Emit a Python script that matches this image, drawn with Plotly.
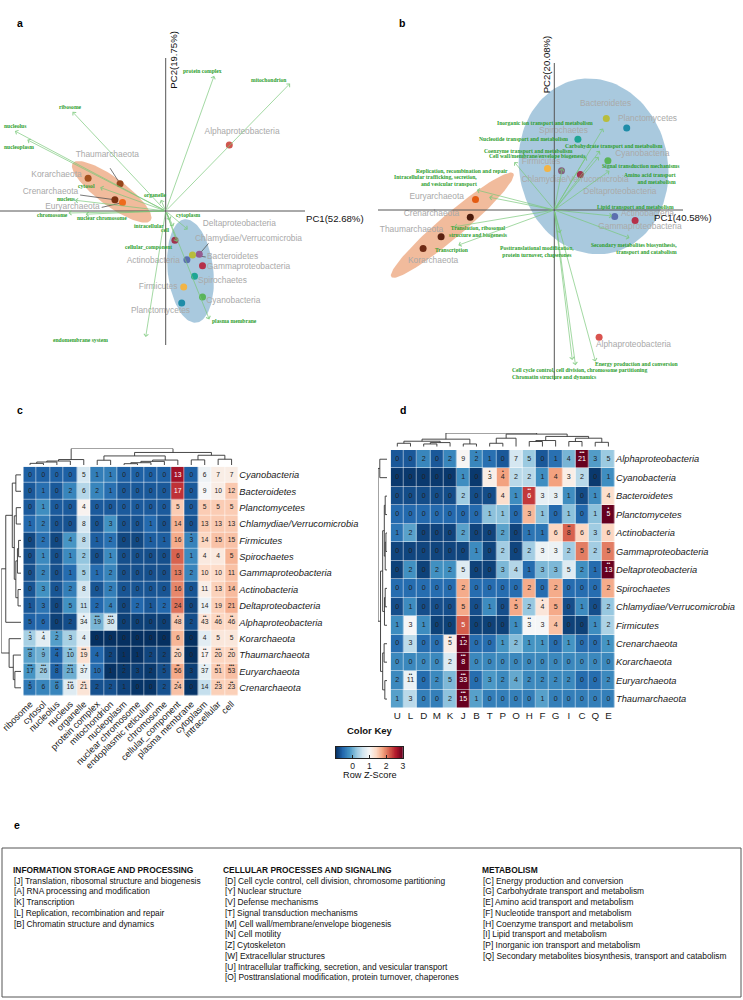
import numpy as np
import plotly.graph_objects as go

W, H = 743, 1000
def px(x): return x / W
def py(y): return 1 - y / H

SANS = "Liberation Sans"
SERIF = "Liberation Serif"

# ---------------- Panel a : PCA of GO cellular-component terms ----------------
a_taxa = ["Alphaproteobacteria", "Thaumarchaeota", "Korarchaeota", "Crenarchaeota", "Euryarchaeota",
          "Deltaproteobacteria", "Chlamydiae/Verrucomicrobia", "Bacteroidetes", "Gammaproteobacteria",
          "Actinobacteria", "Spirochaetes", "Firmicutes", "Cyanobacteria", "Planctomycetes"]
a_pc1 = [1.59, -1.14, -1.94, -1.27, -1.08, 0.23, 0.84, 0.67, 0.92, 0.53, 0.72, 0.45, 0.92, 0.40]
a_pc2 = [1.65, 0.68, 0.82, 0.28, 0.21, -0.73, -1.08, -1.10, -1.37, -1.22, -1.63, -1.90, -2.15, -2.30]
a_lab_x = [1.91, -1.46, -2.73, -2.88, -2.33, 1.84, 2.07, 1.67, 2.07, -0.31, 1.42, -0.19, 1.69, -0.13]
a_lab_y = [1.98, 1.39, 0.91, 0.48, 0.09, -0.33, -0.69, -1.15, -1.40, -1.26, -1.75, -1.89, -2.25, -2.50]
a_colors = ["#d0574f", "#96461c", "#a4511f", "#7d3212", "#ee6a1c", "#a0334f", "#955b90", "#b8bd3c",
            "#b5304a", "#5b6fae", "#1fa594", "#f2b445", "#5ab45a", "#1e8ca8"]
a_leaders = {"Thaumarchaeota": (-1.39, 1.07), "Crenarchaeota": (-2.14, 0.40), "Euryarchaeota": (-1.60, 0.09),
             "Chlamydiae/Verrucomicrobia": (1.07, -0.81), "Bacteroidetes": (1.00, -1.15)}

a_terms = ["protein complex", "mitochondrion", "ribosome", "nucleolus", "nucleoplasm", "cytosol", "nucleus",
           "chromosome", "nuclear chromosome", "organelle", "cytoplasm", "intracellular", "cell",
           "cellular_component", "plasma membrane", "endomembrane system"]
a_load1 = [1.21, 3.11, -2.33, -3.77, -3.46, -1.64, -2.27, -2.43, -2.00, -0.12, 0.55, 0.11, 0.19, 0.28, 1.09, -0.50]
a_load2 = [3.38, 3.19, 2.48, 2.00, 1.78, 0.59, 0.27, -0.05, -0.08, 0.28, -0.46, -0.23, -0.39, -0.77, -2.71, -3.15]
a_term_x = [0.92, 2.58, -2.38, -3.76, -3.68, -1.98, -2.48, -2.83, -1.60, -0.25, 0.57, -0.42, -0.01, -0.43, 1.72, -2.14]
a_term_y = [3.51, 3.28, 2.60, 2.13, 1.59, 0.63, 0.30, -0.10, -0.18, 0.40, -0.11, -0.37, -0.48, -0.91, -2.76, -3.23]

# ellipse params: centre x, centre y, semi-major, semi-minor, angle (deg)
a_ell_arch = (-1.35, 0.48, 1.21, 0.35, -36.5)
a_ell_bact = (0.62, -1.50, 1.30, 0.57, 96.4)

# ---------------- Panel b : PCA of COG categories ----------------
b_taxa = ["Bacteroidetes", "Planctomycetes", "Spirochaetes", "Cyanobacteria", "Firmicutes",
          "Chlamydiae/Verrucomicrobia", "Deltaproteobacteria", "Actinobacteria", "Gammaproteobacteria",
          "Alphaproteobacteria", "Euryarchaeota", "Crenarchaeota", "Thaumarchaeota", "Korarchaeota"]
b_pc1 = [1.30, 1.81, 0.59, 1.34, -0.17, 0.18, 0.65, 1.51, 2.02, 1.12, -1.97, -2.10, -2.83, -3.28]
b_pc2 = [2.29, 2.05, 1.77, 1.23, 1.04, 0.98, 0.89, -0.16, -0.26, -3.18, 0.26, -0.18, -0.67, -0.96]
b_lab_x = [1.28, 2.33, 0.23, 2.20, -0.33, 0.52, 1.64, 2.33, 2.14, 1.98, -2.94, -3.07, -3.57, -3.03]
b_lab_y = [2.65, 2.28, 1.98, 1.39, 1.20, 0.74, 0.45, -0.09, -0.42, -3.38, 0.33, -0.09, -0.49, -1.27]
b_colors = ["#b8bd3c", "#1e8ca8", "#1fa594", "#5ab45a", "#f2b445", "#85607f", "#a0334f", "#5b6fae",
            "#b5304a", "#d9534f", "#e35b12", "#4b1a0c", "#5c2211", "#6e2a14"]

b_terms = ["Inorganic ion transport and metabolism", "Nucleotide transport and metabolism",
           "Coenzyme transport and metabolism", "Cell wall/membrane/envelope biogenesis",
           "Carbohydrate transport and metabolism", "Signal transduction mechanisms",
           "Amino acid transport<br>and metabolism", "Lipid transport and metabolism",
           "Secondary metabolites biosynthesis,<br>transport and catabolism",
           "Energy production and conversion",
           "Cell cycle control, cell division, chromosome partitioning",
           "Chromatin structure and dynamics",
           "Posttranslational modification,<br>protein turnover, chaperones",
           "Replication, recombination and repair",
           "Intracellular trafficking, secretion,<br>and vesicular transport",
           "Translation, ribosomal<br>structure and biogenesis", "Transcription"]
b_load1 = [1.22, 0.80, -1.00, 0.20, 1.14, 1.11, 1.38, 1.45, 1.88, 1.03, 0.53, 0.45, 0.14, -1.63, -1.94, -2.50, -2.40]
b_load2 = [2.04, 1.33, 1.20, 1.05, 1.48, 1.33, 0.98, -0.15, -0.70, -3.79, -3.88, -3.75, -0.58, 0.32, 0.50, -0.42, -0.88]
b_term_x = [-0.23, -0.76, -0.64, -0.43, 1.48, 2.16, 2.38, 2.02, 1.98, 2.06, 0.64, 0.00, -0.43, -2.31, -2.98, -1.89, -2.56]
b_term_y = [2.17, 1.77, 1.48, 1.35, 1.60, 1.10, 0.80, 0.08, -0.97, -3.86, -4.00, -4.18, -1.03, 0.98, 0.73, -0.53, -1.00]
b_term_align = ["center"] * 6 + ["right", "center", "right"] + ["center"] * 5 + ["right", "center", "center"]

b_ell_arch = (-2.55, -0.38, 2.00, 0.30, 40.4)
b_ell_bact = (0.98, 1.09, 2.21, 1.86, 100.8)

# ---------------- Panel c : GO term heatmap ----------------
c_rows = ["Cyanobacteria", "Bacteroidetes", "Planctomycetes", "Chlamydiae/Verrucomicrobia", "Firmicutes",
          "Spirochaetes", "Gammaproteobacteria", "Actinobacteria", "Deltaproteobacteria", "Alphaproteobacteria",
          "Korarchaeota", "Thaumarchaeota", "Euryarchaeota", "Crenarchaeota"]
c_cols = ["ribosome", "cytosol", "nucleolus", "nucleus", "organelle", "protein complex", "mitochondrion",
          "nucleoplasm", "nuclear chromosome", "endoplasmic reticulum", "chromosome", "cellular_component",
          "plasma membrane", "cytoplasm", "intracellular", "cell"]
c_counts = [
    [0, 0, 0, 0, 5, 1, 1, 0, 0, 0, 0, 13, 0, 6, 7, 7],
    [0, 1, 0, 2, 6, 2, 1, 0, 0, 0, 0, 17, 0, 9, 10, 12],
    [0, 1, 0, 0, 4, 0, 0, 0, 0, 0, 0, 5, 0, 5, 5, 5],
    [1, 2, 0, 0, 8, 0, 3, 0, 0, 1, 0, 14, 0, 13, 13, 13],
    [0, 2, 0, 4, 8, 1, 2, 0, 0, 1, 1, 16, 3, 14, 15, 15],
    [0, 1, 0, 1, 2, 0, 1, 0, 0, 0, 0, 6, 1, 4, 4, 5],
    [0, 2, 0, 1, 5, 1, 2, 0, 0, 0, 0, 13, 2, 10, 10, 11],
    [0, 3, 0, 2, 8, 0, 2, 0, 0, 0, 0, 16, 0, 11, 13, 14],
    [1, 3, 0, 5, 11, 2, 4, 0, 2, 1, 2, 24, 0, 14, 19, 21],
    [5, 6, 0, 2, 34, 19, 30, 0, 0, 0, 0, 48, 2, 43, 46, 46],
    [3, 4, 2, 3, 4, 0, 0, 0, 0, 0, 0, 6, 0, 4, 5, 5],
    [8, 9, 4, 10, 19, 4, 2, 1, 1, 2, 2, 20, 0, 17, 20, 20],
    [17, 26, 8, 21, 37, 10, 1, 2, 3, 2, 5, 56, 3, 37, 51, 53],
    [5, 6, 6, 16, 21, 2, 2, 1, 0, 0, 2, 24, 0, 14, 23, 23],
]
c_sig = [
    ("Firmicutes", "plasma membrane", "*"),
    ("Alphaproteobacteria", "organelle", "*"), ("Alphaproteobacteria", "protein complex", "***"),
    ("Alphaproteobacteria", "mitochondrion", "***"), ("Alphaproteobacteria", "cellular_component", "*"),
    ("Alphaproteobacteria", "cytoplasm", "**"), ("Alphaproteobacteria", "intracellular", "**"),
    ("Alphaproteobacteria", "cell", "**"),
    ("Korarchaeota", "ribosome", "*"), ("Korarchaeota", "cytosol", "*"), ("Korarchaeota", "nucleolus", "*"),
    ("Thaumarchaeota", "ribosome", "***"), ("Thaumarchaeota", "cytosol", "*"), ("Thaumarchaeota", "nucleolus", "**"),
    ("Thaumarchaeota", "nucleus", "**"), ("Thaumarchaeota", "organelle", "***"),
    ("Thaumarchaeota", "cellular_component", "**"), ("Thaumarchaeota", "cytoplasm", "**"),
    ("Thaumarchaeota", "intracellular", "***"), ("Thaumarchaeota", "cell", "**"),
    ("Euryarchaeota", "ribosome", "***"), ("Euryarchaeota", "cytosol", "***"), ("Euryarchaeota", "nucleolus", "**"),
    ("Euryarchaeota", "nucleus", "***"), ("Euryarchaeota", "organelle", "*"), ("Euryarchaeota", "nucleoplasm", "*"),
    ("Euryarchaeota", "chromosome", "*"), ("Euryarchaeota", "cellular_component", "**"),
    ("Euryarchaeota", "cytoplasm", "*"), ("Euryarchaeota", "intracellular", "**"), ("Euryarchaeota", "cell", "***"),
    ("Crenarchaeota", "ribosome", "*"), ("Crenarchaeota", "nucleolus", "**"), ("Crenarchaeota", "nucleus", "***"),
    ("Crenarchaeota", "organelle", "**"), ("Crenarchaeota", "cellular_component", "*"),
    ("Crenarchaeota", "intracellular", "**"), ("Crenarchaeota", "cell", "**"),
]
# dendrogram linkages: (child a, child b, height); ids >= n refer to earlier merges
c_col_tree = [(0, 1, 1.0), (16, 2, 1.8), (17, 3, 2.4), (18, 4, 3.3), (5, 6, 2.9), (7, 8, 0.8), (21, 9, 1.4),
              (22, 10, 2.2), (23, 11, 3.0), (20, 24, 5.5), (12, 13, 3.1), (14, 15, 3.5), (26, 27, 5.9),
              (25, 28, 7.6), (19, 29, 10.0)]
c_row_tree = [(0, 1, 2.6), (2, 3, 2.4), (4, 5, 1.2), (16, 6, 1.8), (7, 8, 1.5), (17, 18, 2.6), (15, 19, 3.4),
              (14, 20, 4.4), (21, 9, 7.7), (12, 13, 3.1), (11, 23, 3.9), (10, 24, 6.0), (22, 25, 10.0)]

# ---------------- Panel d : COG category heatmap ----------------
d_rows = ["Alphaproteobacteria", "Cyanobacteria", "Bacteroidetes", "Planctomycetes", "Actinobacteria",
          "Gammaproteobacteria", "Deltaproteobacteria", "Spirochaetes", "Chlamydiae/Verrucomicrobia", "Firmicutes",
          "Crenarchaeota", "Korarchaeota", "Euryarchaeota", "Thaumarchaeota"]
d_cols = ["U", "L", "D", "M", "K", "J", "B", "T", "P", "O", "H", "F", "G", "I", "C", "Q", "E"]
d_counts = [
    [0, 0, 2, 0, 2, 9, 2, 1, 0, 7, 5, 0, 1, 4, 21, 3, 5],
    [0, 0, 0, 0, 0, 1, 0, 3, 4, 2, 2, 1, 4, 3, 2, 0, 1],
    [0, 0, 0, 0, 0, 2, 0, 0, 4, 1, 6, 3, 3, 1, 0, 1, 4],
    [0, 0, 0, 0, 0, 0, 0, 1, 1, 0, 3, 1, 0, 1, 0, 1, 5],
    [1, 2, 0, 0, 0, 2, 0, 0, 2, 0, 1, 1, 6, 8, 6, 3, 6],
    [0, 0, 0, 0, 0, 0, 1, 0, 2, 0, 2, 3, 3, 2, 5, 2, 5],
    [0, 2, 0, 2, 2, 5, 0, 0, 3, 4, 1, 3, 3, 5, 2, 1, 13],
    [0, 0, 0, 0, 0, 2, 0, 0, 0, 0, 2, 0, 2, 0, 0, 0, 2],
    [0, 1, 0, 0, 0, 5, 0, 1, 0, 5, 2, 4, 5, 0, 1, 0, 2],
    [1, 3, 1, 0, 0, 5, 0, 0, 0, 1, 3, 3, 4, 0, 0, 1, 2],
    [0, 3, 0, 0, 5, 12, 0, 0, 1, 2, 1, 1, 0, 1, 0, 0, 1],
    [0, 0, 0, 0, 2, 8, 0, 0, 0, 0, 0, 0, 0, 0, 0, 0, 0],
    [2, 11, 0, 2, 5, 33, 0, 3, 2, 4, 2, 2, 2, 2, 0, 0, 2],
    [1, 3, 0, 0, 2, 15, 1, 0, 0, 0, 0, 1, 0, 0, 0, 0, 0],
]
d_sig = [
    ("Alphaproteobacteria", "B", "*"), ("Alphaproteobacteria", "C", "***"),
    ("Cyanobacteria", "T", "*"), ("Cyanobacteria", "P", "*"),
    ("Bacteroidetes", "H", "**"), ("Planctomycetes", "E", "*"), ("Actinobacteria", "I", "**"),
    ("Deltaproteobacteria", "E", "**"),
    ("Chlamydiae/Verrucomicrobia", "O", "*"), ("Chlamydiae/Verrucomicrobia", "F", "*"),
    ("Firmicutes", "H", "**"), ("Crenarchaeota", "K", "**"), ("Crenarchaeota", "J", "**"),
    ("Korarchaeota", "J", "***"), ("Euryarchaeota", "L", "**"), ("Euryarchaeota", "J", "***"),
    ("Thaumarchaeota", "J", "***"),
]
d_col_tree = [(0, 1, 2.5), (2, 3, 2.0), (18, 4, 3.0), (17, 19, 4.0), (5, 6, 2.0), (20, 21, 5.5), (7, 8, 2.5),
              (23, 9, 6.2), (10, 11, 3.8), (25, 12, 4.5), (13, 14, 3.8), (15, 16, 3.2), (27, 28, 6.2),
              (26, 29, 7.5), (24, 30, 9.2), (22, 31, 10.0)]
d_row_tree = [(0, 1, 8.0), (2, 3, 2.0), (4, 5, 1.2), (16, 6, 2.0), (15, 17, 3.0), (7, 8, 2.0), (19, 9, 2.8),
              (18, 20, 4.8), (10, 11, 3.2), (12, 13, 2.4), (22, 23, 4.8), (21, 24, 7.2), (14, 25, 10.0)]

key_ticks = [0, 1, 2, 3]

# ---------------- Panel e : COG legend ----------------
e_heads = ["INFORMATION STORAGE AND PROCESSING", "CELLULAR PROCESSES AND SIGNALING", "METABOLISM"]
e_info = ["[J] Translation, ribosomal structure and biogenesis", "[A] RNA processing and modification",
          "[K] Transcription", "[L] Replication, recombination and repair", "[B] Chromatin structure and dynamics"]
e_cell = ["[D] Cell cycle control, cell division, chromosome partitioning", "[Y] Nuclear structure",
          "[V] Defense mechanisms", "[T] Signal transduction mechanisms",
          "[M] Cell wall/membrane/envelope biogenesis", "[N] Cell motility", "[Z] Cytoskeleton",
          "[W] Extracellular structures", "[U] Intracellular trafficking, secretion, and vesicular transport",
          "[O] Posttranslational modification, protein turnover, chaperones"]
e_meta = ["[C] Energy production and conversion", "[G] Carbohydrate transport and metabolism",
          "[E] Amino acid transport and metabolism", "[F] Nucleotide transport and metabolism",
          "[H] Coenzyme transport and metabolism", "[I] Lipid transport and metabolism",
          "[P] Inorganic ion transport and metabolism",
          "[Q] Secondary metabolites biosynthesis, transport and catabolism"]

# ======================= build figure =======================
RDBU = ["#053061", "#2166ac", "#4393c3", "#92c5de", "#d1e5f0", "#f7f7f7",
        "#fddbc7", "#f4a582", "#d6604d", "#b2182b", "#67001f"]
CSCALE = [[i / 10, c] for i, c in enumerate(RDBU)]
ZMIN, ZMAX = -1, 3

fig = go.Figure()
ann = []
shapes = []


def ellipse(p, n=120):
    cx, cy, a, b, ang = p
    t = np.linspace(0, 2 * np.pi, n)
    r = np.radians(ang)
    x = cx + a * np.cos(t) * np.cos(r) - b * np.sin(t) * np.sin(r)
    y = cy + a * np.cos(t) * np.sin(r) + b * np.sin(t) * np.cos(r)
    return x, y


def pca_panel(xa, ya, ell_arch, ell_bact, taxa, pc1, pc2, labx, laby, cols, terms, l1, l2, tx, ty, aligns,
              leaders=None):
    for p, col in ((ell_arch, "rgba(232,145,95,0.62)"), (ell_bact, "rgba(112,165,200,0.6)")):
        ex, ey = ellipse(p)
        fig.add_trace(go.Scatter(x=ex, y=ey, mode="lines", fill="toself", fillcolor=col,
                                 line=dict(width=0), xaxis=xa, yaxis=ya, hoverinfo="skip"))
    for i in range(len(terms)):
        ann.append(dict(x=l1[i], y=l2[i], ax=0, ay=0, xref=xa, yref=ya, axref=xa, ayref=ya,
                        showarrow=True, arrowhead=4, arrowsize=1.1, arrowwidth=0.8,
                        arrowcolor="rgba(120,200,120,0.85)", text=""))
        ann.append(dict(x=tx[i], y=ty[i], xref=xa, yref=ya, showarrow=False, text=terms[i],
                        align=aligns[i],
                        font=dict(family=SERIF, size=5.6, color="#2e9e2e", weight="bold")))
    if leaders:
        for k, (sx, sy) in leaders.items():
            i = taxa.index(k)
            fig.add_trace(go.Scatter(x=[sx, pc1[i]], y=[sy, pc2[i]], mode="lines",
                                     line=dict(color="#555", width=0.8), xaxis=xa, yaxis=ya,
                                     hoverinfo="skip"))
    fig.add_trace(go.Scatter(x=labx, y=laby, text=taxa, mode="text", textposition="middle center",
                             textfont=dict(family=SANS, size=8.4, color="#a9a9a9"),
                             xaxis=xa, yaxis=ya, cliponaxis=False, hoverinfo="skip"))
    fig.add_trace(go.Scatter(x=pc1, y=pc2, mode="markers", marker=dict(size=7, color=cols),
                             xaxis=xa, yaxis=ya, hoverinfo="skip"))


pca_panel("x", "y", a_ell_arch, a_ell_bact, a_taxa, a_pc1, a_pc2, a_lab_x, a_lab_y, a_colors,
          a_terms, a_load1, a_load2, a_term_x, a_term_y, ["center"] * len(a_terms), a_leaders)
pca_panel("x2", "y2", b_ell_arch, b_ell_bact, b_taxa, b_pc1, b_pc2, b_lab_x, b_lab_y, b_colors,
          b_terms, b_load1, b_load2, b_term_x, b_term_y, b_term_align)

S = 40.0
a_o = (165.7, 211.0)
b_o = (554.3, 210.0)
shapes += [
    dict(type="line", xref="x", yref="y", x0=(0 - a_o[0]) / S, x1=(305 - a_o[0]) / S, y0=0, y1=0,
         line=dict(color="#555", width=1)),
    dict(type="line", xref="x", yref="y", x0=0, x1=0, y0=(a_o[1] - 58) / S, y1=(a_o[1] - 345) / S,
         line=dict(color="#555", width=1)),
    dict(type="line", xref="x2", yref="y2", x0=(378 - b_o[0]) / S, x1=(683 - b_o[0]) / S, y0=0, y1=0,
         line=dict(color="#555", width=1)),
    dict(type="line", xref="x2", yref="y2", x0=0, x1=0, y0=(b_o[1] - 63) / S, y1=(b_o[1] - 380) / S,
         line=dict(color="#555", width=1)),
]
axfont = dict(family=SANS, size=9.6, color="#111")
ann += [
    dict(x=px(334.5), y=py(211), xref="paper", yref="paper", text="PC1(52.68%)", showarrow=False, font=axfont),
    dict(x=px(165.7), y=py(28.5), xref="paper", yref="paper", text="PC2(19.75%)", showarrow=False,
         textangle=-90, font=axfont),
    dict(x=px(713.5), y=py(210), xref="paper", yref="paper", text="PC1(40.58%)", showarrow=False, font=axfont),
    dict(x=px(554.3), y=py(33.5), xref="paper", yref="paper", text="PC2(20.08%)", showarrow=False,
         textangle=-90, font=axfont),
]


def dendro_xy(n, merges):
    pos = [float(i) for i in range(n)]
    hgt = [0.0] * n
    xs, ys = [], []
    for a, b, h in merges:
        xs += [pos[a], pos[a], pos[b], pos[b], None]
        ys += [hgt[a], h, h, hgt[b], None]
        pos.append((pos[a] + pos[b]) / 2)
        hgt.append(h)
    return xs, ys


def heat_panel(xa, ya, rows, cols, counts, sig, col_tree, row_tree, xt, yt, xr, yr, fsize):
    arr = np.array(counts, dtype=float)
    z = (arr - arr.mean(axis=1, keepdims=True)) / arr.std(axis=1, ddof=1, keepdims=True)
    nr, nc = arr.shape
    fig.add_trace(go.Heatmap(z=z, x=list(range(nc)), y=list(range(nr)), colorscale=CSCALE, zmin=ZMIN,
                             zmax=ZMAX, showscale=False, xgap=0.5, ygap=0.5, xaxis=xa, yaxis=ya,
                             hoverinfo="skip"))
    tx, ty, tt, tc = [], [], [], []
    for i in range(nr):
        for j in range(nc):
            tx.append(j)
            ty.append(i)
            tt.append(str(counts[i][j]))
            tc.append("#ffffff" if z[i, j] > 2.2 else "#222222")
    fig.add_trace(go.Scatter(x=tx, y=ty, text=tt, mode="text", textposition="middle center",
                             textfont=dict(family=SANS, size=fsize, color=tc), xaxis=xa, yaxis=ya,
                             cliponaxis=False, hoverinfo="skip"))
    sx, sy, st, sc = [], [], [], []
    for r, c, s in sig:
        i, j = rows.index(r), cols.index(c)
        sx.append(j)
        sy.append(i - 0.33)
        st.append("•" * len(s))
        sc.append("#ffffff" if z[i, j] > 2.2 else "#222222")
    fig.add_trace(go.Scatter(x=sx, y=sy, text=st, mode="text", textposition="middle center",
                             textfont=dict(family=SANS, size=4.8, color=sc), xaxis=xa, yaxis=ya,
                             cliponaxis=False, hoverinfo="skip"))
    dx, dy = dendro_xy(nc, col_tree)
    fig.add_trace(go.Scatter(x=dx, y=dy, mode="lines", line=dict(color="#333", width=0.9),
                             xaxis=xt, yaxis=yt, hoverinfo="skip"))
    rx, ry = dendro_xy(nr, row_tree)
    fig.add_trace(go.Scatter(x=ry, y=rx, mode="lines", line=dict(color="#333", width=0.9),
                             xaxis=xr, yaxis=yr, hoverinfo="skip"))


heat_panel("x3", "y3", c_rows, c_cols, c_counts, c_sig, c_col_tree, c_row_tree, "x4", "y4", "x5", "y5", 6.7)
heat_panel("x6", "y6", d_rows, d_cols, d_counts, d_sig, d_col_tree, d_row_tree, "x7", "y7", "x8", "y8", 7.1)

key_vals = list(np.linspace(ZMIN, ZMAX, 161))
fig.add_trace(go.Heatmap(z=[key_vals], x=key_vals, y=[0], colorscale=CSCALE, zmin=ZMIN, zmax=ZMAX,
                         showscale=False, xaxis="x9", yaxis="y9", hoverinfo="skip"))
ann += [
    dict(x=px(369.5), y=py(738), xref="paper", yref="paper", text="<b>Color Key</b>", showarrow=False,
         font=dict(family=SANS, size=9.5, color="#111")),
    dict(x=px(369.5), y=py(782), xref="paper", yref="paper", text="Row Z-Score", showarrow=False,
         font=dict(family=SANS, size=9.2, color="#111")),
]

for t, x, y in (("a", 15, 15), ("b", 402, 15), ("c", 15, 410), ("d", 403, 410), ("e", 12, 833)):
    ann.append(dict(x=px(x), y=py(y), xref="paper", yref="paper", text="<b>%s</b>" % t, showarrow=False,
                    font=dict(family=SANS, size=10.5, color="#000")))

shapes.append(dict(type="rect", xref="paper", yref="paper", x0=px(2), x1=px(741), y0=py(997), y1=py(848),
                   line=dict(color="#555", width=1)))
efont = dict(family=SANS, size=8.4, color="#111")
for hx, head, items, ix in ((10.5, e_heads[0], e_info, 12), (221, e_heads[1], e_cell, 223),
                            (480, e_heads[2], e_meta, 481)):
    ann.append(dict(x=px(hx), y=py(877), xref="paper", yref="paper", text="<b>%s</b>" % head,
                    showarrow=False, xanchor="left", font=efont))
    for k, it in enumerate(items):
        ann.append(dict(x=px(ix), y=py(887.6 + 10.75 * k), xref="paper", yref="paper", text=it,
                        showarrow=False, xanchor="left", font=efont))


def hid(domain, rng, anchor):
    return dict(domain=domain, range=rng, anchor=anchor, visible=False, showgrid=False, zeroline=False,
                fixedrange=True, automargin=False)


tickf = dict(family=SANS, size=9.2, color="#1a1a1a")
rowf = dict(family=SANS, size=9.3, color="#1a1a1a", style="italic")

layout = dict(
    template="none",
    width=W, height=H, autosize=False, margin=dict(l=0, r=0, t=0, b=0, pad=0, autoexpand=False),
    paper_bgcolor="white", plot_bgcolor="white", showlegend=False,
    xaxis=hid([0, px(370)], [-a_o[0] / S, (370 - a_o[0]) / S], "y"),
    yaxis=hid([py(350), 1], [(a_o[1] - 350) / S, a_o[1] / S], "x"),
    xaxis2=hid([px(370), 1], [(370 - b_o[0]) / S, (743 - b_o[0]) / S], "y2"),
    yaxis2=hid([py(390), 1], [(b_o[1] - 390) / S, b_o[1] / S], "x2"),
    xaxis3=dict(domain=[px(23.3), px(238.3)], range=[-0.5, 15.5], anchor="y3", tickmode="array",
                tickvals=list(range(len(c_cols))), ticktext=c_cols, tickangle=-45, tickfont=tickf,
                showgrid=False, zeroline=False, showline=False, ticks="", fixedrange=True, automargin=False,
                ticklabeloverflow="allow"),
    yaxis3=dict(domain=[py(696), py(466.7)], range=[13.5, -0.5], anchor="x3", side="right", tickmode="array",
                tickvals=list(range(len(c_rows))), ticktext=c_rows, tickfont=rowf, showgrid=False,
                zeroline=False, showline=False, ticks="", fixedrange=True, automargin=False,
                ticklabeloverflow="allow"),
    xaxis4=hid([px(23.3), px(238.3)], [-0.5, 15.5], "y4"),
    yaxis4=hid([py(465), py(448.5)], [0, 10], "x4"),
    xaxis5=hid([px(1.2), px(21)], [10, 0], "y5"),
    yaxis5=hid([py(696), py(466.7)], [13.5, -0.5], "x5"),
    xaxis6=dict(domain=[px(390.7), px(615)], range=[-0.5, 16.5], anchor="y6", tickmode="array",
                tickvals=list(range(len(d_cols))), ticktext=d_cols,
                tickfont=dict(family=SANS, size=9.8, color="#1a1a1a"),
                showgrid=False, zeroline=False, showline=False, ticks="", fixedrange=True, automargin=False,
                ticklabeloverflow="allow"),
    yaxis6=dict(domain=[py(708.3), py(450)], range=[13.5, -0.5], anchor="x6", side="right", tickmode="array",
                tickvals=list(range(len(d_rows))), ticktext=d_rows, tickfont=rowf, showgrid=False,
                zeroline=False, showline=False, ticks="", fixedrange=True, automargin=False,
                ticklabeloverflow="allow"),
    xaxis7=hid([px(390.7), px(615)], [-0.5, 16.5], "y7"),
    yaxis7=hid([py(446.7), py(433)], [0, 10], "x7"),
    xaxis8=hid([px(378), px(387)], [10, 0], "y8"),
    yaxis8=hid([py(708.3), py(450)], [13.5, -0.5], "x8"),
    xaxis9=dict(domain=[px(336), px(403)], range=[ZMIN, ZMAX], anchor="y9", tickmode="array",
                tickvals=key_ticks, ticks="inside", ticklen=3, tickcolor="#222",
                tickfont=dict(family=SANS, size=8.6, color="#222"), showline=True, mirror=True,
                linecolor="#222", linewidth=1, showgrid=False, zeroline=False, fixedrange=True,
                automargin=False),
    yaxis9=dict(domain=[py(758), py(747)], range=[-0.5, 0.5], anchor="x9", showticklabels=False, ticks="",
                showline=True, mirror=True, linecolor="#222", linewidth=1, showgrid=False, zeroline=False,
                fixedrange=True, automargin=False),
    annotations=ann, shapes=shapes,
)
fig.update_layout(**layout)
fig.write_html("out.html", config={"displayModeBar": False, "staticPlot": True},
               post_script="document.body.style.margin='0px';document.body.style.padding='0px';"
                           "document.body.style.overflow='hidden';")
